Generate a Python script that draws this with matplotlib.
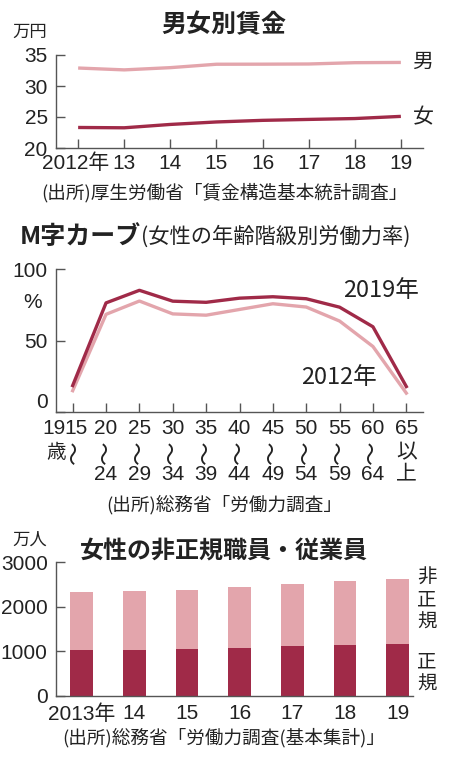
import matplotlib
matplotlib.use("Agg")
import matplotlib.pyplot as plt
from matplotlib import font_manager as fm
from matplotlib.transforms import ScaledTranslation

# ---------------- data ----------------
wage_years = [2012, 2013, 2014, 2015, 2016, 2017, 2018, 2019]
wage_labels = ["2012年", "13", "14", "15", "16", "17", "18", "19"]
wage_male = [32.9, 32.6, 32.96, 33.51, 33.52, 33.55, 33.76, 33.8]
wage_female = [23.31, 23.26, 23.8, 24.2, 24.46, 24.61, 24.75, 25.1]

age_top = ["15", "20", "25", "30", "35", "40", "45", "50", "55", "60", "65"]
age_bottom = ["", "24", "29", "34", "39", "44", "49", "54", "59", "64", "上"]
lfpr_2019 = [18.5, 76.3, 85.1, 77.5, 76.7, 79.6, 80.6, 79.2, 73.3, 59.6, 17.8]
lfpr_2012 = [14.9, 68.3, 77.6, 68.6, 67.7, 71.7, 75.7, 73.4, 63.6, 45.8, 13.2]

emp_labels = ["2013年", "14", "15", "16", "17", "18", "19"]
emp_regular = [1027, 1019, 1042, 1080, 1114, 1138, 1160]
emp_nonregular = [1296, 1335, 1345, 1367, 1389, 1451, 1475]

# ---------------- style ----------------
DARK = "#a02a48"
LIGHT = "#e3a5ac"
AXC = "#555555"
TXT = "#222222"

avail = {f.name for f in fm.fontManager.ttflist}
JP = "Noto Sans CJK JP"
NARROW = "Liberation Sans Narrow" if "Liberation Sans Narrow" in avail else "Liberation Sans"
NUM = [NARROW, JP]
plt.rcParams["font.family"] = [JP, "DejaVu Sans"]

W, H = 450, 757
fig = plt.figure(figsize=(W / 100, H / 100), dpi=100)


def fx(x):
    return x / W


def fy(y):
    return 1 - y / H


def add_axes(l, r, t, b):
    return fig.add_axes([fx(l), fy(b), fx(r) - fx(l), (b - t) / H])


def style(ax):
    for s in ["top", "right"]:
        ax.spines[s].set_visible(False)
    for s in ["left", "bottom"]:
        ax.spines[s].set_color(AXC)
        ax.spines[s].set_linewidth(1.0)
    ax.tick_params(direction="in", length=6.5, width=1.0, color=AXC)
    ax.tick_params(axis="y", pad=6)


def ftext(x, y, s, size, weight="normal", ha="center", va="center", family=None, **kw):
    fig.text(fx(x), fy(y), s, fontsize=size, fontweight=weight, ha=ha, va=va,
             color=TXT, family=family if family else [JP, "DejaVu Sans"], **kw)


def shift_label(lab, dx_px):
    lab.set_transform(lab.get_transform() + ScaledTranslation(dx_px / 100, 0, fig.dpi_scale_trans))


# ---------------- panel 1 ----------------
ax1 = add_axes(56, 423, 55, 148)
style(ax1)
ax1.plot(wage_years, wage_male, color=LIGHT, lw=2.4, solid_capstyle="butt")
ax1.plot(wage_years, wage_female, color=DARK, lw=2.4, solid_capstyle="butt")
ax1.set_xlim(2011.52, 2019.48)
ax1.set_ylim(20, 35)
ax1.set_yticks([20, 25, 30, 35])
ax1.set_yticklabels(["20", "25", "30", "35"], fontsize=15, family=NUM, color=TXT)
ax1.set_xticks(wage_years)
ax1.set_xticklabels(wage_labels, fontsize=15, family=NUM, color=TXT)
ax1.tick_params(axis="x", pad=4)
shift_label(ax1.get_xticklabels()[0], -3)

ftext(224, 25, "男女別賃金", 18, weight="bold")
ftext(30, 32, "万円", 12.5)
ftext(423, 62, "男", 15)
ftext(423, 117, "女", 15)
ftext(224, 193, "(出所)厚生労働省「賃金構造基本統計調査」", 13.4)

# ---------------- panel 2 ----------------
ax2 = add_axes(56, 423, 269, 412)
style(ax2)
xs = list(range(len(age_top)))
ax2.plot(xs, lfpr_2012, color=LIGHT, lw=2.4)
ax2.plot(xs, lfpr_2019, color=DARK, lw=2.4)
ax2.set_xlim(-0.5, 10.5)
ax2.set_ylim(0, 100)
ax2.set_yticks([0, 50, 100])
ax2.set_yticklabels(["0", "50", "100"], fontsize=15, family=NUM, color=TXT)
ax2.set_xticks(xs)
ax2.set_xticklabels([""] * len(xs))
for lab in ax2.get_yticklabels():
    if lab.get_text() == "0":
        lab.set_verticalalignment("bottom")

for i, (top, bot) in enumerate(zip(age_top, age_bottom)):
    dx = 3 if i == 0 else 0
    ax2.annotate(top, xy=(i, 0), xycoords=("data", "axes fraction"),
                 xytext=(dx, -16), textcoords="offset pixels",
                 ha="center", va="center", fontsize=15, family=NUM, color=TXT)
    last = i == len(xs) - 1
    mid = "以" if last else "〜"
    ax2.annotate(mid, xy=(i, 0), xycoords=("data", "axes fraction"),
                 xytext=(dx, -40), textcoords="offset pixels",
                 ha="center", va="center", fontsize=15 if last else 17,
                 family=[JP, "DejaVu Sans"], color=TXT, rotation=0 if last else 90)
    if bot:
        ax2.annotate(bot, xy=(i, 0), xycoords=("data", "axes fraction"),
                     xytext=(0, -62), textcoords="offset pixels",
                     ha="center", va="center", fontsize=15, family=NUM, color=TXT)
ftext(66, 428, "19", 15, ha="right", family=NUM)
ftext(56, 452, "歳", 14)

ftext(20, 237, "M字カーブ", 18, weight="bold", ha="left")
ftext(141, 237, "(女性の年齢階級別労働力率)", 15.3, ha="left")
ftext(33, 302, "%", 15, family=NUM)
ftext(381, 290, "2019年", 17)
ftext(339, 377, "2012年", 17)
ftext(224, 505, "(出所)総務省「労働力調査」", 13.4)

# ---------------- panel 3 ----------------
ax3 = add_axes(56, 413, 562.3, 695.7)
style(ax3)
bx = list(range(len(emp_labels)))
ax3.bar(bx, emp_regular, width=0.43, color=DARK, linewidth=0)
ax3.bar(bx, emp_nonregular, width=0.43, bottom=emp_regular, color=LIGHT, linewidth=0)
ax3.set_xlim(-0.49, 6.29)
ax3.set_ylim(0, 3000)
ax3.set_yticks([0, 1000, 2000, 3000])
ax3.set_yticklabels(["0", "1000", "2000", "3000"], fontsize=15, family=NUM, color=TXT)
ax3.set_xticks(bx)
ax3.set_xticklabels(emp_labels, fontsize=15, family=NUM, color=TXT)
ax3.tick_params(axis="x", length=0, pad=6)

ftext(30, 540, "万人", 12.5)
ftext(224, 552, "女性の非正規職員・従業員", 17.3, weight="bold")
ftext(427, 600, "非\n正\n規", 14, linespacing=1.1)
ftext(427, 673, "正\n規", 14, linespacing=1.1)
ftext(224, 738, "(出所)総務省「労働力調査(基本集計)」", 13.4)

fig.savefig("out.png", dpi=100, facecolor="white")
